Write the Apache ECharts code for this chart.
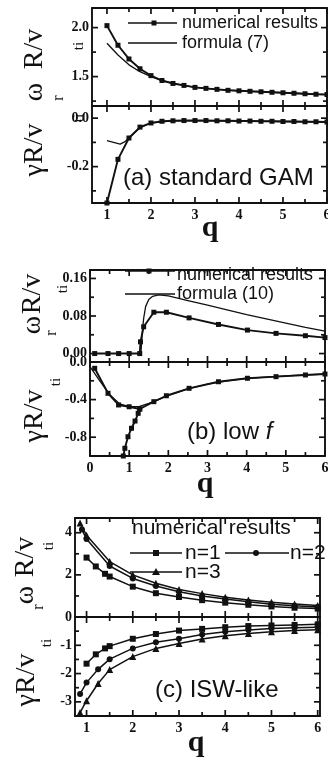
<!DOCTYPE html>
<html><head><meta charset="utf-8">
<script src="https://cdn.jsdelivr.net/npm/echarts@6/dist/echarts.min.js"></script>
<style>html,body{margin:0;padding:0;background:#fff;}#c{width:328px;height:760px;}</style>
</head><body><div id="c"></div>
<script>
// ---------------- data ----------------
// (a) standard GAM
const qA = [1,1.25,1.5,1.75,2,2.25,2.5,2.75,3,3.25,3.5,3.75,4,4.25,4.5,4.75,5,5.25,5.5,5.75,6];
const omegaA_num = [2.02,1.82,1.68,1.58,1.51,1.46,1.43,1.41,1.39,1.38,1.37,1.36,1.355,1.35,1.345,1.34,1.335,1.33,1.325,1.32,1.317];
const qA_formula = [1,1.25,1.5,1.75,2,2.25,2.5,3,3.5,4,4.5,5,5.5,6];
const omegaA_formula = [1.84,1.72,1.62,1.55,1.50,1.46,1.43,1.39,1.37,1.355,1.345,1.335,1.325,1.317];
const gammaA_num = [-0.35,-0.17,-0.082,-0.037,-0.02,-0.013,-0.011,-0.01,-0.01,-0.01,-0.011,-0.011,-0.012,-0.012,-0.013,-0.013,-0.014,-0.014,-0.015,-0.015,-0.016];
const qA_gformula = [1,1.15,1.3,1.4,1.5,1.75,2,2.5,3,4,5,6];
const gammaA_formula = [-0.093,-0.1,-0.107,-0.098,-0.082,-0.04,-0.02,-0.011,-0.01,-0.012,-0.014,-0.016];

// (b) low f
const qB_omega = [0.12,0.46,0.73,1.0,1.27,1.29,1.37,1.63,1.95,2.53,3.28,4.02,4.75,5.5,6];
const omegaB_num = [0,0,0,0,0,0.025,0.057,0.088,0.088,0.076,0.062,0.050,0.043,0.038,0.034];
const qB_oformula = [1.3,1.33,1.37,1.42,1.5,1.6,1.75,2,2.5,3,3.5,4,4.5,5,5.5,6];
const omegaB_formula = [0,0.04,0.075,0.1,0.115,0.122,0.125,0.123,0.113,0.103,0.093,0.083,0.074,0.065,0.056,0.048];
const qB_gamma = [0.12,0.46,0.73,1.0,1.27,1.63,1.95,2.53,3.28,4.02,4.75,5.5,6];
const gammaB_num = [-0.067,-0.333,-0.457,-0.476,-0.5,-0.422,-0.359,-0.28,-0.21,-0.173,-0.156,-0.138,-0.128];
const qB_branch = [0.85,0.89,0.97,1.06,1.15,1.23,1.27];
const gammaB_branch = [-1.0,-0.918,-0.795,-0.705,-0.628,-0.546,-0.5];
const qB_gformula = [0,0.25,0.5,0.75,1,1.25,1.5,1.75,2,2.5,3,3.5,4,4.5,5,5.5,6];
const gammaB_formula = [-0.05,-0.2,-0.345,-0.445,-0.475,-0.475,-0.44,-0.4,-0.355,-0.285,-0.235,-0.2,-0.175,-0.16,-0.148,-0.138,-0.13];

// (c) ISW-like
const qC_n1 = [1.0,1.2,1.4,1.5,2,2.5,3,3.5,4,4.5,5,5.5,6];
const omegaC_n1 = [2.82,2.4,2.05,1.92,1.44,1.13,0.95,0.8,0.68,0.58,0.5,0.44,0.4];
const qC_n2 = [0.9,1.0,1.5,2,2.5,3,3.5,4,4.5,5,5.5,6];
const omegaC_n2 = [4.15,3.7,2.42,1.83,1.47,1.2,1.0,0.85,0.72,0.61,0.53,0.47];
const qC_n3 = [0.86,1.0,1.5,2,2.5,3,3.5,4,4.5,5,5.5,6];
const omegaC_n3 = [4.46,3.88,2.63,2.0,1.6,1.31,1.11,0.94,0.81,0.7,0.62,0.55];
const qC_g1 = [1.0,1.2,1.4,1.5,2,2.5,3,3.5,4,4.5,5,5.5,6];
const gammaC_n1 = [-1.65,-1.32,-1.11,-1.03,-0.77,-0.6,-0.48,-0.42,-0.36,-0.32,-0.3,-0.28,-0.26];
const qC_g23 = [0.86,1.0,1.25,1.5,2,2.5,3,3.5,4,4.5,5,5.5,6];
const gammaC_n2 = [-2.72,-2.32,-1.85,-1.49,-1.11,-0.89,-0.77,-0.62,-0.52,-0.46,-0.41,-0.38,-0.36];
const gammaC_n3 = [-3.38,-2.96,-2.35,-1.86,-1.4,-1.11,-0.94,-0.78,-0.66,-0.58,-0.52,-0.48,-0.45];

// tick labels
const xLabelsA = [1,2,3,4,5,6];
const xLabelsB = [0,1,2,3,4,5,6];
const xLabelsC = [1,2,3,4,5,6];
const yLabelsA1 = [1.5,2.0];
const yLabelsA2 = [-0.2,0.0];
const yLabelsB1 = [0.0,0.08,0.16];
const yLabelsB2 = [-0.8,-0.4,0.0];
const yLabelsC1 = [0,2,4];
const yLabelsC2 = [-3,-2,-1];

// ---------------- chart ----------------
const FS = '"Liberation Serif","DejaVu Serif",serif';
const SS = '"Liberation Sans",Arial,sans-serif';
const INK = '#111';
const zip = (x, y) => x.map((v, i) => [v, y[i]]);
const range = (a, b, s) => { const r = []; for (let v = a; v <= b + 1e-9; v += s) r.push(+v.toFixed(4)); return r; };

const grids = [
  {left:92, top:8, width:235, height:98},
  {left:92, top:106, width:235, height:97},
  {left:90, top:270, width:235, height:92},
  {left:90, top:362, width:235, height:94},
  {left:75, top:518, width:245, height:99},
  {left:75, top:617, width:245, height:99}
].map(g => Object.assign({outerBoundsMode:'none', containLabel:false}, g));

const xAxis = [], yAxis = [], tickSpec = [];
function axisSet(gi, xr, yr, xMaj, xMin, xLab, yMaj, yMin, yLab, yDec) {
  const line = {show:true, onZero:false, lineStyle:{color:INK, width:1.9}};
  const base = (o) => Object.assign({gridIndex:gi, type:'value', splitLine:{show:false}, axisTick:{show:false}, axisLabel:{show:false}}, o);
  const xi = xAxis.length, yi = yAxis.length;
  xAxis.push(base({min:xr[0], max:xr[1], position:'bottom', axisLine:line,
    axisLabel: xLab ? {show:true, customValues:xLab, fontFamily:FS, fontWeight:'bold', fontSize:14, color:INK, margin:5, formatter:v => String(v)} : {show:false}}));
  xAxis.push(base({min:xr[0], max:xr[1], position:'top', axisLine:line}));
  yAxis.push(base({min:yr[0], max:yr[1], position:'left', axisLine:line,
    axisLabel:{show:true, customValues:yLab, fontFamily:FS, fontWeight:'bold', fontSize:14, color:INK, margin:3, formatter:v => Number(v).toFixed(yDec)}}));
  yAxis.push(base({min:yr[0], max:yr[1], position:'right', axisLine:line}));
  tickSpec.push({gi, xi, yi, xr, yr, xMaj, xMin, yMaj, yMin});
  return {xi, yi};
}

const ax = [];
ax[0] = axisSet(0, [0.66,6], [1.2,2.2], range(1,6,1), range(1.5,5.5,1), null, [1.5,2.0], [1.25,1.75], yLabelsA1, 1);
ax[1] = axisSet(1, [0.66,6], [-0.35,0.05], range(1,6,1), range(1.5,5.5,1), xLabelsA, [-0.2,0], [-0.3,-0.1], yLabelsA2, 1);
ax[2] = axisSet(2, [0,6], [-0.018,0.178], range(0,6,1), range(0.5,5.5,1), null, [0,0.08,0.16], [0.04,0.12], yLabelsB1, 2);
ax[3] = axisSet(3, [0,6], [-1.0,0.0], range(0,6,1), range(0.5,5.5,1), xLabelsB, [-0.8,-0.4,0], [-0.6,-0.2], yLabelsB2, 1);
ax[4] = axisSet(4, [0.75,6.05], [0,4.7], range(1,6,1), range(1.5,5.5,1), null, [0,2,4], [1,3], yLabelsC1, 0);
ax[5] = axisSet(5, [0.75,6.05], [-3.5,0], range(1,6,1), range(1.5,5.5,1), xLabelsC, [-3,-2,-1], [-2.5,-1.5,-0.5], yLabelsC2, 0);

function ser(gi, q, v, sym, size, width) {
  return {type:'line', xAxisIndex:ax[gi].xi, yAxisIndex:ax[gi].yi, data:zip(q, v),
    symbol: sym || 'none', symbolSize: size || 5, showSymbol: !!sym,
    lineStyle:{color:INK, width: width || 1.6}, itemStyle:{color:INK},
    animation:false, clip:true, silent:true};
}

const series = [
  ser(0, qA_formula, omegaA_formula, null, 0, 1.3),
  ser(0, qA, omegaA_num, 'rect', 5, 1.9),
  ser(1, qA_gformula, gammaA_formula, null, 0, 1.3),
  ser(1, qA, gammaA_num, 'rect', 5, 1.9),
  ser(2, qB_oformula, omegaB_formula, null, 0, 1.3),
  ser(2, qB_omega, omegaB_num, 'rect', 5, 1.9),
  ser(3, qB_gformula, gammaB_formula, null, 0, 1.3),
  ser(3, qB_gamma, gammaB_num, 'rect', 5, 1.9),
  ser(3, qB_branch, gammaB_branch, 'rect', 5, 1.9),
  ser(4, qC_n1, omegaC_n1, 'rect', 6, 1.5),
  ser(4, qC_n2, omegaC_n2, 'circle', 6, 1.5),
  ser(4, qC_n3, omegaC_n3, 'triangle', 7, 1.5),
  ser(5, qC_g1, gammaC_n1, 'rect', 6, 1.5),
  ser(5, qC_g23, gammaC_n2, 'circle', 6, 1.5),
  ser(5, qC_g23, gammaC_n3, 'triangle', 7, 1.5)
];

// ---------------- annotations (text, legends) ----------------
const G = [];
function T(x, y, text, size, font, o) {
  o = o || {};
  G.push({type:'text', x:x, y:y, rotation:o.rot || 0, z:10, silent:true,
    style:{text:text, fontFamily:font, fontSize:size, fontWeight:o.w || 'normal', fontStyle:o.it || 'normal',
      fill:INK, align:o.align || 'left', textAlign:o.align || 'left', verticalAlign:'middle', textVerticalAlign:'middle', rich:o.rich}});
}
function Lseg(x1, y1, x2, y2, w) { G.push({type:'line', z:12, silent:true, shape:{x1:x1, y1:y1, x2:x2, y2:y2}, style:{stroke:INK, lineWidth:w || 1.7}}); }
function L(x1, x2, y) { Lseg(x1, y, x2, y, 1.7); }
function M(kind, x, y, s) {
  if (kind === 'rect') G.push({type:'rect', z:11, silent:true, shape:{x:x - s/2, y:y - s/2, width:s, height:s}, style:{fill:INK}});
  else if (kind === 'circle') G.push({type:'circle', z:11, silent:true, shape:{cx:x, cy:y, r:s/2}, style:{fill:INK}});
  else G.push({type:'polygon', z:11, silent:true, shape:{points:[[x, y - s/2 - 1], [x - s/2 - 1, y + s/2], [x + s/2 + 1, y + s/2]]}, style:{fill:INK}});
}
const R90 = Math.PI / 2;
function yTitle(wx, wy, rx, ry, Rx, Ry, tx, ty, greek) {
  if (greek === 'ω') {
    T(wx, wy, 'ω', 28, FS, {rot:R90, align:'center'});
    T(rx, ry, 'r', 16, FS, {rot:R90, align:'center'});
    T(Rx, Ry, 'R/v', 28, FS, {rot:R90, align:'center'});
  } else {
    T(Rx, Ry, 'γR/v', 28, FS, {rot:R90, align:'center'});
  }
  T(tx, ty, 'ti', 15, FS, {rot:R90, align:'center'});
}
yTitle(35, 92, 59, 98, 35, 49, 79, 46, 'ω');
yTitle(0, 0, 0, 0, 35, 150, 79, 118, 'γ');
yTitle(33, 325, 52, 333, 33, 294, 63, 289, 'ω');
yTitle(0, 0, 0, 0, 35, 416, 56, 382, 'γ');
yTitle(26, 595, 39, 607, 26, 557, 49, 546, 'ω');
yTitle(0, 0, 0, 0, 27, 680, 47, 643, 'γ');
// x axis titles
T(210, 228, 'q', 30, FS, {align:'center', w:'bold'});
T(205, 484, 'q', 30, FS, {align:'center', w:'bold'});
T(196, 743, 'q', 30, FS, {align:'center', w:'bold'});
// panel labels
T(123, 178, '(a) standard GAM', 24, SS);
T(187, 432, '(b) low {i|f}', 24, SS, {rich:{i:{fontStyle:'italic', fontFamily:SS, fontSize:24, fill:INK}}});
T(155, 690, '(c) ISW-like', 24, SS);
// legend (a)
L(128, 177, 23); M('rect', 154, 23, 5); T(182, 23, 'numerical results', 18, SS);
L(128, 177, 43); T(182, 43, 'formula (7)', 18, SS);
// legend (b)
L(125, 175, 271); M('rect', 149, 271, 5); T(177, 275, 'numerical results', 18, SS);
L(125, 175, 294); T(177, 294, 'formula (10)', 18, SS);
// legend (c)
T(132, 528, 'numerical results', 21, SS);
L(130, 182, 553); M('rect', 156, 553, 6); T(185, 553, 'n=1', 21, SS);
L(225, 289, 553); M('circle', 256, 553, 6); T(290, 553, 'n=2', 21, SS);
L(130, 182, 572); M('triangle', 156, 572, 6); T(185, 572, 'n=3', 21, SS);

const chart = echarts.init(document.getElementById('c'), null, {renderer:'canvas'});
chart.setOption({backgroundColor:'#fff', animation:false, grid:grids, xAxis:xAxis, yAxis:yAxis, series:series});

// inward tick marks on all four sides, positioned through the grid's own scales
tickSpec.forEach(s => {
  const g = grids[s.gi];
  const top = g.top, bot = g.top + g.height, left = g.left, right = g.left + g.width;
  const toPx = (xv, yv) => {
    let p = null;
    try { p = chart.convertToPixel({gridIndex:s.gi}, [xv, yv]); } catch (e) { p = null; }
    if (!p || !isFinite(p[0]) || !isFinite(p[1])) {
      p = [left + (xv - s.xr[0]) / (s.xr[1] - s.xr[0]) * g.width,
           bot - (yv - s.yr[0]) / (s.yr[1] - s.yr[0]) * g.height];
    }
    return p;
  };
  const xt = (vals, len) => vals.forEach(v => {
    const px = toPx(v, s.yr[0])[0];
    Lseg(px, bot, px, bot - len, 1.7); Lseg(px, top, px, top + len, 1.7);
  });
  const yt = (vals, len) => vals.forEach(v => {
    const py = toPx(s.xr[0], v)[1];
    Lseg(left, py, left + len, py, 1.7); Lseg(right, py, right - len, py, 1.7);
  });
  xt(s.xMaj, 6); xt(s.xMin, 4); yt(s.yMaj, 6); yt(s.yMin, 4);
});
chart.setOption({graphic:{elements:G}});
</script></body></html>
